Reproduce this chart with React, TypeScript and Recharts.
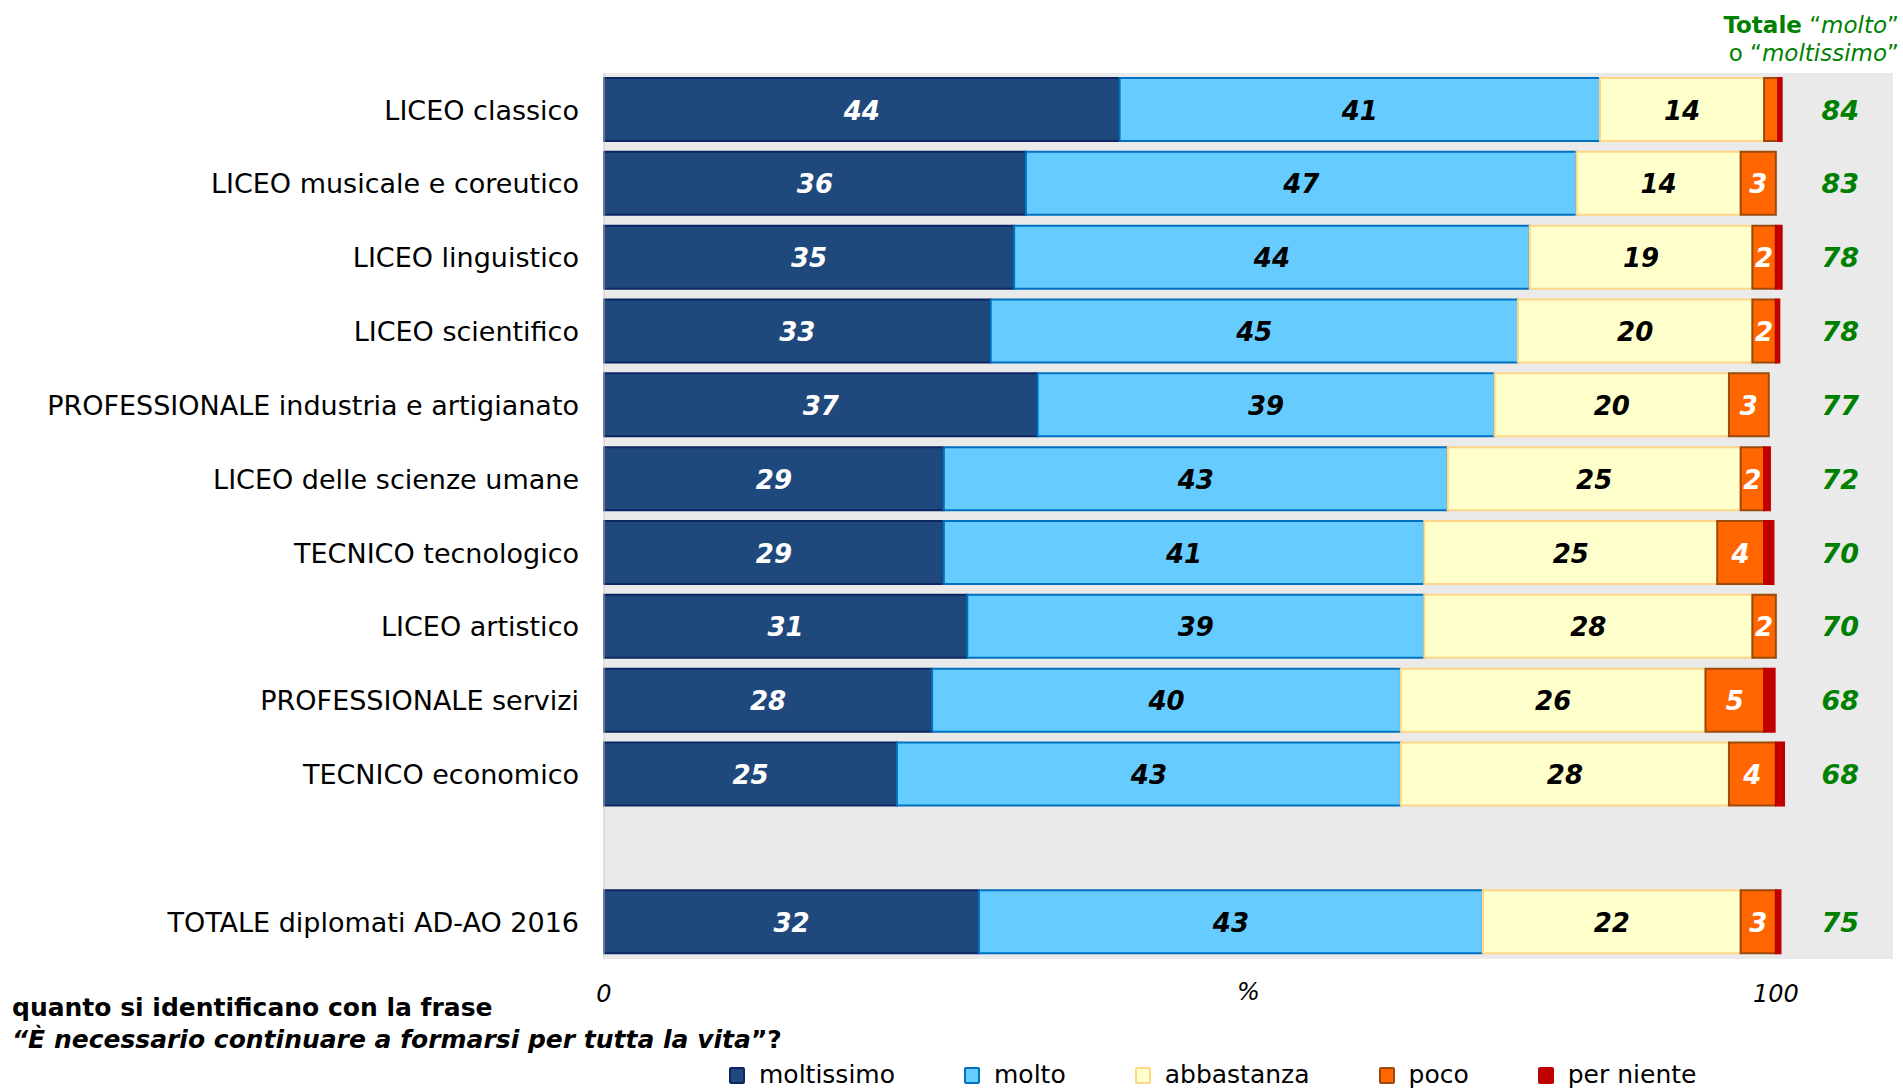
import { Bar, BarChart, CartesianGrid, LabelList, XAxis, YAxis } from "recharts";

const FONT = "'DejaVu Sans', Verdana, sans-serif";

const categories = [
  "LICEO classico",
  "LICEO musicale e coreutico",
  "LICEO linguistico",
  "LICEO scientifico",
  "PROFESSIONALE industria e artigianato",
  "LICEO delle scienze umane",
  "TECNICO tecnologico",
  "LICEO artistico",
  "PROFESSIONALE servizi",
  "TECNICO economico",
  "",
  "TOTALE diplomati AD-AO 2016",
];

const moltissimo = [44, 36, 35, 33, 37, 29, 29, 31, 28, 25, null, 32];
const molto = [41, 47, 44, 45, 39, 43, 41, 39, 40, 43, null, 43];
const abbastanza = [14, 14, 19, 20, 20, 25, 25, 28, 26, 28, null, 22];
const poco = [1.2, 3, 2, 2, 3.4, 2, 4, 2, 5, 4, null, 3];
const perNiente = [0.3, 0, 0.5, 0.3, 0, 0.5, 0.8, 0, 0.9, 0.7, null, 0.4];
const totale = [84, 83, 78, 78, 77, 72, 70, 70, 68, 68, null, 75];

const xTicks = [0, 100];
const TOTAL_COLUMN_AT = 105.5; // x value (in %) where the totals column is centred

const data = categories.map((name, i) => ({
  name,
  moltissimo: moltissimo[i],
  molto: molto[i],
  abbastanza: abbastanza[i],
  poco: poco[i],
  perNiente: perNiente[i],
  totale: totale[i],
}));

const series = [
  { key: "moltissimo", label: "moltissimo", fill: "#1F497D", stroke: "#0B2663", text: "#FFFFFF", min: 0 },
  { key: "molto", label: "molto", fill: "#66CCFF", stroke: "#0070C0", text: "#000000", min: 0 },
  { key: "abbastanza", label: "abbastanza", fill: "#FFFFCC", stroke: "#FFD685", text: "#000000", min: 0 },
  { key: "poco", label: "poco", fill: "#FF6600", stroke: "#9C4A0A", text: "#FFFFFF", min: 1.5 },
  { key: "perNiente", label: "per niente", fill: "#C00000", stroke: "#C00000", text: "#FFFFFF", min: 1000 },
];

const makeLabel = (color: string, min: number) => (props: any) => {
  const { x, y, width, height, value } = props;
  if (value == null || value < min) return null;
  return (
    <text
      x={x + width / 2}
      y={y + height / 2}
      dy={10}
      textAnchor="middle"
      fill={color}
      fontSize={26}
      fontWeight="bold"
      fontStyle="italic"
      fontFamily={FONT}
    >
      {Math.round(value)}
    </text>
  );
};

// the totals label rides on the first segment: "total|first" so the segment's
// own width/value gives the axis scale
const totalKey = (d: any) => (d.totale == null ? null : `${d.totale}|${d.moltissimo}`);

const TotalLabel = (props: any) => {
  const { x, y, width, height, value } = props;
  if (value == null) return null;
  const [tot, base] = String(value).split("|").map(Number);
  if (!base) return null;
  const pxPerUnit = width / base;
  return (
    <text
      x={x + pxPerUnit * TOTAL_COLUMN_AT}
      y={y + height / 2}
      dy={10}
      textAnchor="middle"
      fill="#008000"
      fontSize={27}
      fontWeight="bold"
      fontStyle="italic"
      fontFamily={FONT}
    >
      {tot}
    </text>
  );
};

const XTick = (props: any) => {
  const { x, y, payload } = props;
  return (
    <text x={x} y={y} dy={41} textAnchor="middle" fill="#000" fontSize={24} fontStyle="italic" fontFamily={FONT}>
      {payload.value}
    </text>
  );
};

const PctLabel = (props: any) => {
  const { viewBox } = props;
  return (
    <text
      x={viewBox.x + viewBox.width / 2}
      y={viewBox.y + 41}
      textAnchor="middle"
      fill="#000"
      fontSize={24}
      fontStyle="italic"
      fontFamily={FONT}
    >
      %
    </text>
  );
};

export default function App() {
  return (
    <div style={{ position: "absolute", left: 0, top: 0, width: 1903, height: 1088, background: "#fff", fontFamily: FONT }}>
      <BarChart
        width={1903}
        height={1088}
        data={data}
        layout="vertical"
        margin={{ top: 73, right: 10, bottom: 69, left: 0 }}
        barSize={63}
      >
        <CartesianGrid horizontal={false} vertical={false} fill="#EAEAEA" />
        <XAxis
          type="number"
          domain={[0, 110]}
          ticks={xTicks}
          height={60}
          axisLine={false}
          tickLine={false}
          tickSize={0}
          tick={<XTick />}
          label={<PctLabel />}
        />
        <YAxis
          type="category"
          dataKey="name"
          width={604}
          axisLine={{ stroke: "#C8C8C8" }}
          tickLine={false}
          tickSize={0}
          tickMargin={25}
          interval={0}
          tick={{ fill: "#000", fontSize: 27, fontFamily: FONT }}
        />
        {series.map((s) => (
          <Bar
            key={s.key}
            dataKey={s.key}
            stackId="a"
            fill={s.fill}
            stroke={s.stroke}
            strokeWidth={2}
            isAnimationActive={false}
          >
            <LabelList dataKey={s.key} content={makeLabel(s.text, s.min)} />
            {s.key === "moltissimo" && <LabelList dataKey={totalKey} content={TotalLabel} />}
          </Bar>
        ))}
      </BarChart>

      <div
        style={{
          position: "absolute",
          right: 4,
          top: 11,
          fontSize: 23,
          lineHeight: "28px",
          color: "#008000",
          textAlign: "right",
        }}
      >
        <div>
          <b>Totale</b> “<i>molto</i>”
        </div>
        <div>
          o “<i>moltissimo</i>”
        </div>
      </div>

      <div style={{ position: "absolute", left: 12, top: 992, fontSize: 25, lineHeight: "32px", fontWeight: "bold", color: "#000" }}>
        <div>quanto si identificano con la frase</div>
        <div>
          <i>“È necessario continuare a formarsi per tutta la vita</i>”?
        </div>
      </div>

      <div
        style={{
          position: "absolute",
          left: 729,
          top: 1060,
          display: "flex",
          gap: 69,
          fontSize: 25,
          lineHeight: "30px",
          color: "#000",
        }}
      >
        {series.map((s) => (
          <div key={s.key} style={{ display: "flex", alignItems: "center" }}>
            <span
              style={{
                display: "inline-block",
                width: 12,
                height: 13,
                background: s.fill,
                border: `2px solid ${s.stroke}`,
                borderRadius: 2,
                marginRight: 14,
              }}
            />
            <span>{s.label}</span>
          </div>
        ))}
      </div>
    </div>
  );
}
